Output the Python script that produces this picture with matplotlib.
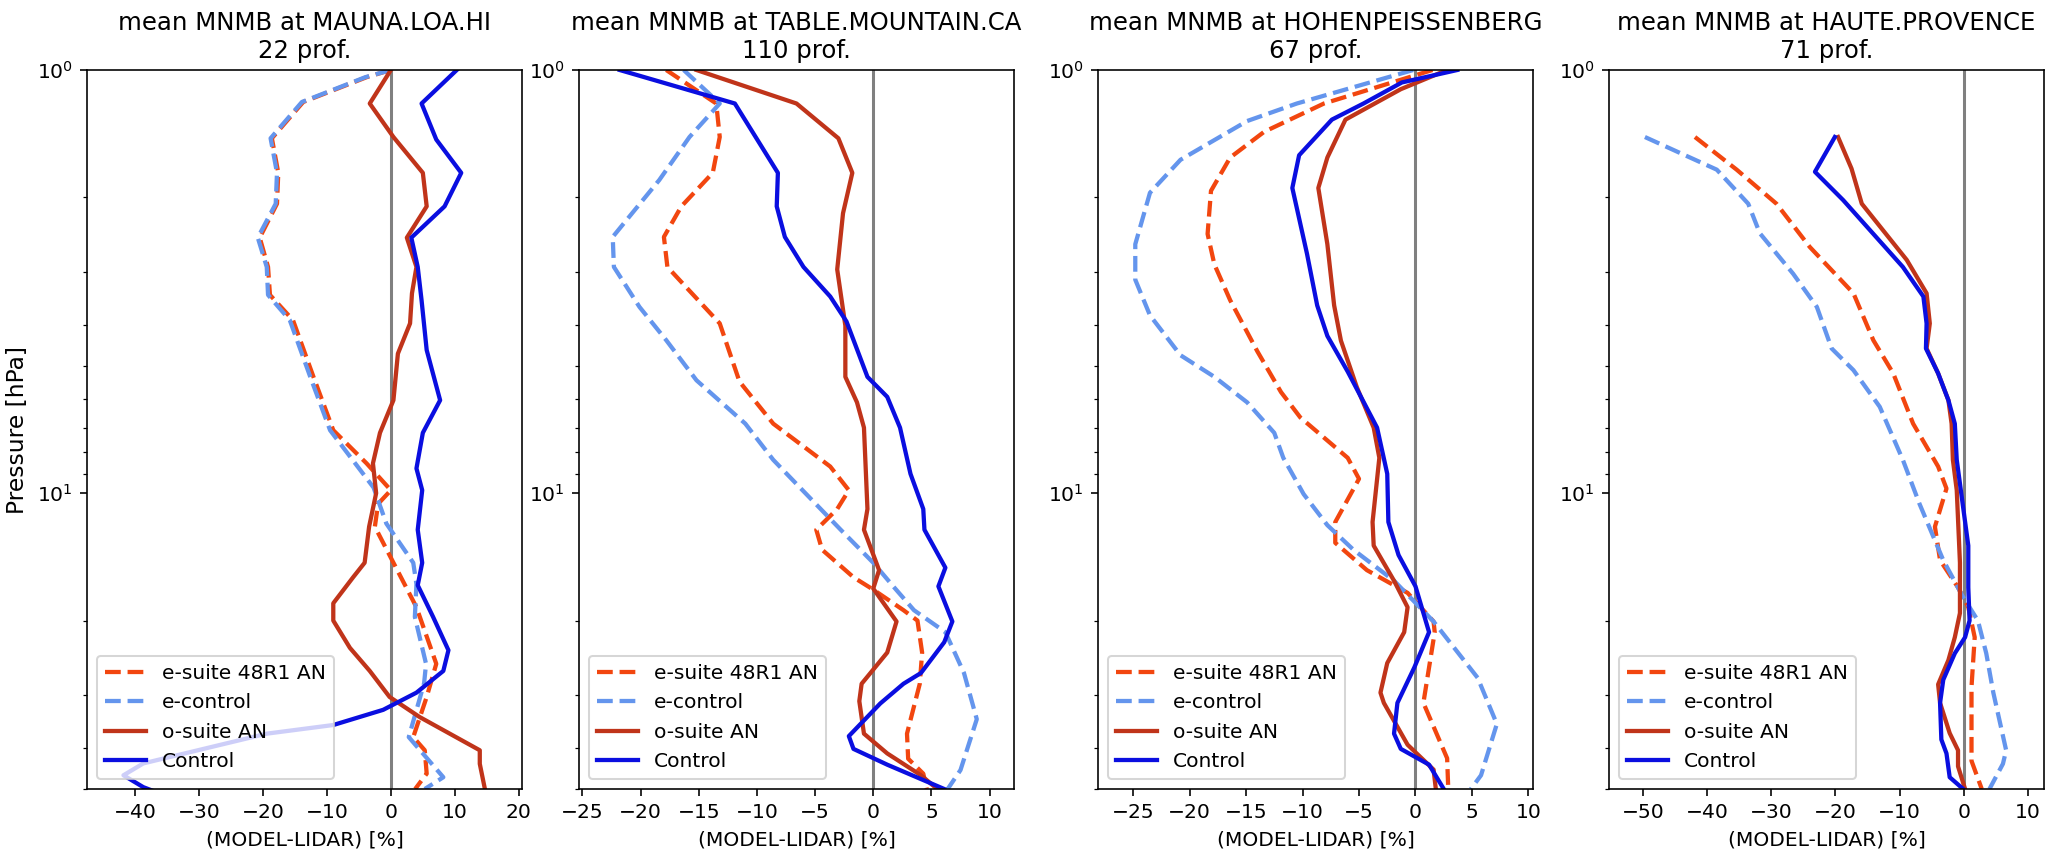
import matplotlib.pyplot as plt
from matplotlib.ticker import MultipleLocator

# ---- data (pressure in hPa, MNMB in %) ----
stations = ['MAUNA.LOA.HI', 'TABLE.MOUNTAIN.CA', 'HOHENPEISSENBERG', 'HAUTE.PROVENCE']
n_prof = [22, 110, 67, 71]
labels = ['e-suite 48R1 AN', 'e-control', 'o-suite AN', 'Control']

# MAUNA.LOA.HI
mlo_es_p = [1.0, 1.04, 1.19, 1.45, 1.75, 2.07, 2.49, 2.92, 3.40, 3.90, 5.31, 7.1, 8.5, 9.84,
            10.6, 12.0, 14.4, 18.6, 25.3, 30.3, 37.7, 40.5, 46.0, 50.0]
mlo_es = [0.0, -3.8, -13.7, -18.6, -17.6, -17.8, -20.5, -19.2, -18.9, -15.3, -12.1, -9.0, -3.8, 0.0,
          -2.0, -2.5, 0.2, 4.0, 7.1, 5.6, 3.5, 5.3, 5.6, 3.8]
mlo_ec_p = [1.0, 1.04, 1.19, 1.45, 1.75, 2.07, 2.49, 2.92, 3.40, 3.90, 5.31, 7.1, 9.7, 11.8,
            14.6, 16.4, 19.6, 25.3, 28.1, 37.7, 46.9, 50.0]
mlo_ec = [0.0, -4.0, -13.9, -18.8, -17.8, -18.0, -20.8, -19.4, -19.2, -15.8, -12.6, -9.5, -2.7, -0.7,
          3.5, 4.0, 3.75, 5.5, 5.2, 2.8, 8.2, 5.3]
mlo_os_p = [1.0, 1.2, 1.44, 1.75, 2.10, 2.49, 2.92, 3.37, 3.97, 4.68, 6.03, 7.2, 8.5, 10.0, 12.0,
            14.6, 15.8, 18.2, 20.0, 23.2, 26.3, 30.3, 33.8, 40.5, 43.6, 50.0]
mlo_os = [0.0, -3.3, 0.4, 5.0, 5.6, 2.5, 4.0, 3.3, 3.0, 1.1, 0.4, -1.7, -2.8, -2.3, -3.4,
          -4.1, -5.9, -9.0, -9.0, -6.4, -3.3, -0.2, 4.5, 13.9, 13.9, 14.7]
mlo_ct_p = [1.0, 1.2, 1.46, 1.75, 2.10, 2.49, 2.92, 3.5, 4.59, 6.03, 7.2, 8.74, 9.84, 12.2, 14.6,
            16.5, 19.6, 23.5, 26.3, 29.6, 32.5, 35.3, 37.0, 43.5, 46.4, 49.5, 52.0]
mlo_ct = [10.3, 4.8, 7.1, 11.0, 8.4, 3.2, 4.2, 4.8, 5.6, 7.7, 5.0, 4.0, 4.9, 4.2, 4.9,
          4.2, 6.6, 9.0, 8.2, 4.0, -1.2, -9.0, -19.4, -38.7, -41.8, -38.7, -35.0]

# TABLE.MOUNTAIN.CA
tmf_es_p = [1.0, 1.2, 1.44, 1.75, 2.10, 2.48, 2.92, 3.97, 5.45, 6.85, 8.65, 9.84, 10.9, 12.2, 13.6,
            15.8, 16.9, 18.9, 20.0, 23.8, 28.2, 37.0, 42.4, 46.0, 50.0]
tmf_es = [-17.8, -13.5, -13.2, -13.8, -16.5, -18.0, -17.7, -13.2, -11.5, -8.6, -3.7, -2.1, -3.1, -4.9, -4.4,
          -1.7, 0.0, 2.6, 3.8, 4.2, 4.0, 2.9, 3.0, 4.3, 4.6]
tmf_ec_p = [1.0, 1.2, 1.44, 1.82, 2.48, 2.92, 3.63, 4.35, 5.41, 6.85, 8.34, 9.7, 12.2, 14.6, 16.7,
            18.9, 21.3, 26.6, 34.2, 45.1, 50.0]
tmf_ec = [-16.3, -13.2, -15.8, -18.4, -22.4, -22.3, -20.1, -17.8, -15.2, -11.0, -8.6, -6.3, -2.8, 0.0, 1.8,
          3.5, 6.2, 7.8, 8.9, 7.5, 6.4]
tmf_os_p = [1.0, 1.2, 1.45, 1.75, 2.18, 2.96, 4.02, 5.31, 6.10, 7.0, 10.9, 12.2, 15.2, 16.8, 20.1,
            23.8, 28.2, 31.0, 37.0, 41.2, 46.4, 50.0]
tmf_os = [-15.2, -6.6, -3.0, -1.8, -2.6, -3.1, -2.4, -2.4, -1.4, -0.8, -0.5, -0.8, 0.5, 0.0, 2.0,
          1.2, -1.0, -1.2, -0.8, 1.2, 4.1, 5.5]
tmf_ct_p = [1.0, 1.2, 1.75, 2.10, 2.48, 2.92, 3.43, 3.93, 5.31, 5.92, 7.0, 9.0, 10.9, 12.2, 15.0,
            16.6, 20.1, 22.5, 26.6, 28.2, 31.4, 37.5, 40.2, 43.8, 50.0]
tmf_ct = [-21.8, -11.9, -8.2, -8.3, -7.6, -6.0, -3.7, -2.3, -0.5, 1.2, 2.3, 3.2, 4.3, 4.4, 6.2,
          5.6, 6.8, 6.1, 4.1, 2.6, 0.6, -2.1, -1.7, 1.2, 6.1]

# HOHENPEISSENBERG
hpb_es_p = [1.0, 1.20, 1.40, 1.61, 1.93, 2.44, 2.88, 3.50, 4.62, 5.77, 6.62, 8.25, 9.25, 11.7, 13.1,
            15.2, 17.2, 20.1, 21.3, 31.3, 42.3, 50.0]
hpb_es = [1.5, -8.1, -13.4, -16.4, -18.1, -18.4, -17.8, -16.4, -14.0, -11.9, -10.2, -6.0, -5.0, -7.1, -7.1,
          -4.3, -0.7, 1.6, 1.7, 0.7, 2.8, 2.9]
hpb_ec_p = [1.0, 1.20, 1.32, 1.63, 1.95, 2.58, 3.13, 3.80, 4.72, 5.31, 6.10, 7.2, 8.25, 10.05, 11.9,
            13.6, 16.1, 20.1, 27.3, 35.1, 46.4, 50.0]
hpb_ec = [-0.2, -10.5, -14.9, -20.8, -23.5, -24.8, -24.8, -23.5, -20.8, -17.8, -14.9, -12.5, -11.7, -9.9, -7.8,
          -5.5, -1.9, 1.6, 5.5, 7.2, 5.8, 4.9]
hpb_os_p = [1.0, 1.11, 1.31, 1.61, 1.90, 2.58, 3.60, 4.36, 5.61, 7.0, 8.25, 11.7, 13.3, 16.1, 18.6,
            21.3, 25.2, 29.6, 31.3, 39.3, 45.0, 50.0]
hpb_os = [2.8, -1.3, -6.2, -7.8, -8.6, -7.8, -7.2, -6.6, -5.2, -3.7, -3.2, -3.8, -3.7, -1.9, -0.7,
          -1.0, -2.5, -3.1, -2.8, -0.7, 1.6, 1.8]
hpb_ct_p = [1.0, 1.07, 1.20, 1.31, 1.59, 1.90, 2.72, 3.60, 4.25, 5.16, 7.0, 9.0, 11.7, 14.0, 16.6,
            21.3, 25.8, 31.3, 37.0, 40.2, 43.8, 50.0]
hpb_ct = [3.7, -1.2, -4.6, -7.4, -10.3, -10.9, -9.6, -8.7, -7.8, -6.0, -3.4, -2.5, -2.4, -1.5, 0.0,
          1.2, -0.1, -1.6, -1.9, -1.3, 1.2, 2.5]

# HAUTE.PROVENCE
ohp_es_p = [1.44, 1.72, 2.07, 2.62, 3.37, 4.35, 5.21, 6.85, 8.65, 9.75, 12.0, 14.4, 16.7, 18.6,
            21.9, 28.7, 42.9, 50.0]
ohp_es = [-41.9, -35.4, -29.2, -24.0, -17.2, -14.1, -11.0, -7.9, -4.0, -2.7, -4.5, -3.7, -0.9, 0.7,
          1.7, 1.2, 1.2, 2.8]
ohp_ec_p = [1.44, 1.72, 2.07, 2.43, 3.03, 3.63, 4.55, 5.12, 6.25, 8.34, 10.6, 14.4, 17.6, 20.0,
            23.9, 29.6, 40.5, 43.6, 50.0]
ohp_ec = [-49.7, -38.5, -33.6, -31.8, -26.6, -22.9, -20.6, -17.2, -13.1, -9.5, -6.9, -3.2, -0.1, 2.2,
          3.5, 4.6, 6.6, 6.1, 4.0]
ohp_os_p = [1.44, 1.71, 2.07, 2.81, 3.37, 3.97, 4.55, 5.21, 6.03, 6.85, 8.34, 9.84, 14.6, 19.2,
            21.9, 24.8, 28.3, 31.3, 36.9, 40.5, 44.2, 50.0]
ohp_os = [-19.6, -17.5, -15.9, -8.9, -5.8, -5.3, -5.8, -4.0, -2.4, -1.9, -1.7, -1.1, -0.6, -0.6,
          -1.4, -2.4, -4.0, -3.7, -2.2, -0.9, -0.9, 0.2]
ohp_ct_p = [1.44, 1.74, 2.03, 2.92, 3.43, 3.97, 4.55, 5.21, 6.03, 6.85, 8.34, 10.0, 13.3, 16.7,
            20.0, 21.9, 23.9, 27.6, 31.3, 38.2, 41.2, 46.9, 50.0]
ohp_ct = [-20.1, -23.2, -18.8, -9.5, -6.3, -5.8, -5.9, -4.0, -2.4, -1.4, -1.1, -0.4, 0.7, 0.7,
          0.9, 0.2, -1.4, -3.2, -3.7, -3.5, -2.7, -2.2, -0.1]

# ---- styling ----
colors = ['#f2460f', '#6495ed', '#c0341a', '#0a0ee0']
styles = ['--', '--', '-', '-']

panels = [
    [(mlo_es, mlo_es_p), (mlo_ec, mlo_ec_p), (mlo_os, mlo_os_p), (mlo_ct, mlo_ct_p)],
    [(tmf_es, tmf_es_p), (tmf_ec, tmf_ec_p), (tmf_os, tmf_os_p), (tmf_ct, tmf_ct_p)],
    [(hpb_es, hpb_es_p), (hpb_ec, hpb_ec_p), (hpb_os, hpb_os_p), (hpb_ct, hpb_ct_p)],
    [(ohp_es, ohp_es_p), (ohp_ec, ohp_ec_p), (ohp_os, ohp_os_p), (ohp_ct, ohp_ct_p)],
]
xlims = [(-47.5, 20.5), (-25.3, 12.1), (-28.1, 10.4), (-55.3, 12.5)]
xsteps = [10, 5, 5, 10]
lefts_px = [87, 579, 1098, 1609]

W, H, DPI = 2067, 865, 146
fig = plt.figure(figsize=(W / DPI, H / DPI), dpi=DPI)

for i, series in enumerate(panels):
    ax = fig.add_axes([lefts_px[i] / W, (H - 789) / H, 435 / W, 719 / H])
    ax.axvline(0, color='grey', lw=1.5, zorder=1)
    for (x, p), c, ls, lab in zip(series, colors, styles, labels):
        ax.plot(x, p, color=c, ls=ls, lw=2.1, label=lab, zorder=2)
    ax.set_yscale('log')
    ax.set_ylim(50, 1)
    ax.set_xlim(*xlims[i])
    ax.xaxis.set_major_locator(MultipleLocator(xsteps[i]))
    ax.set_title(f'mean MNMB at {stations[i]}\n{n_prof[i]} prof.', fontsize=12)
    ax.set_xlabel('(MODEL-LIDAR) [%]')
    ax.legend(loc='lower left')
    if i == 0:
        ax.set_ylabel('Pressure [hPa]', fontsize=11.5)

fig.savefig('out.png', dpi=DPI)
